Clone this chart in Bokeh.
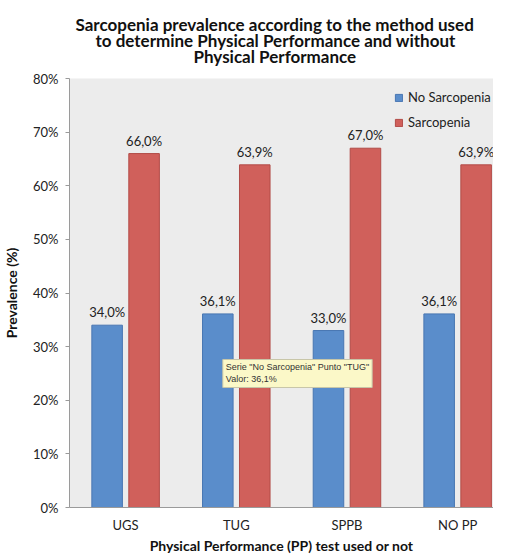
from bokeh.plotting import figure
from bokeh.models import (ColumnDataSource, FixedTicker, Legend, LegendItem,
                          LabelSet, Label, Title, Range1d)
from bokeh.core.properties import value
from bokeh.transform import dodge
from bokeh.embed import file_html
from bokeh.resources import INLINE

# ---- data ----
categories = ["UGS", "TUG", "SPPB", "NO PP"]
no_sarcopenia = [34.0, 36.1, 33.0, 36.1]
sarcopenia = [66.0, 63.9, 67.0, 63.9]
y_ticks = [0, 10, 20, 30, 40, 50, 60, 70, 80]
y_tick_labels = [f"{t}%" for t in y_ticks]
series_names = ["No Sarcopenia", "Sarcopenia"]
title_lines = ["Sarcopenia prevalence according to the method used",
               "to determine Physical Performance and without",
               "Physical Performance"]
tooltip_text = 'Serie "No Sarcopenia" Punto "TUG"\nValor: 36,1%'
tooltip_category = "TUG"
tooltip_top_value = 27.6

FONT = "Lato"
BLUE, BLUE_EDGE = "#5a8dcb", "#4876b2"
RED, RED_EDGE = "#d0605b", "#b24b47"

xs = list(range(len(categories)))


def pct(v):
    return f"{v:.1f}%".replace(".", ",")


src = ColumnDataSource(dict(
    x=xs,
    no=no_sarcopenia,
    yes=sarcopenia,
    no_lbl=[pct(v) for v in no_sarcopenia],
    yes_lbl=[pct(v) for v in sarcopenia],
))

p = figure(width=493, height=556, output_backend="svg", toolbar_location=None,
           x_range=Range1d(-0.507, 3.324), y_range=Range1d(0, 80),
           min_border_left=62, min_border_right=0, min_border_top=78,
           min_border_bottom=46, background_fill_color="#ececec",
           border_fill_color="white", outline_line_color=None)

off = 0.167
w = 0.276
r_no = p.vbar(x=dodge("x", -off), top="no", width=w, source=src,
              fill_color=BLUE, line_color=BLUE_EDGE, line_width=1)
r_yes = p.vbar(x=dodge("x", off), top="yes", width=w, source=src,
               fill_color=RED, line_color=RED_EDGE, line_width=1)

for col, lbl, d in (("no", "no_lbl", -off), ("yes", "yes_lbl", off)):
    p.add_layout(LabelSet(x=dodge("x", d), y=col, text=lbl, source=src,
                          text_align="center", text_baseline="bottom",
                          y_offset=5, text_font=value(FONT),
                          text_font_size=value("13px"),
                          text_color="#222222"))

# grid off
p.xgrid.grid_line_color = None
p.ygrid.grid_line_color = None

# axes
p.xaxis.ticker = FixedTicker(ticks=xs)
p.xaxis.major_label_overrides = {i: c for i, c in zip(xs, categories)}
p.xaxis.major_tick_line_color = None
p.xaxis.minor_tick_line_color = None
p.xaxis.major_tick_out = 0
p.xaxis.major_tick_in = 0
p.xaxis.major_label_standoff = 9
p.xaxis.axis_line_color = "#9a9a9a"
p.xaxis.major_label_text_font = FONT
p.xaxis.major_label_text_font_size = "13px"
p.xaxis.major_label_text_color = "#222222"
p.xaxis.axis_label = "Physical Performance (PP) test used or not"
p.xaxis.axis_label_text_font = FONT
p.xaxis.axis_label_text_font_style = "bold"
p.xaxis.axis_label_text_font_size = "14px"
p.xaxis.axis_label_text_color = "#111111"
p.xaxis.axis_label_standoff = 1

p.yaxis.ticker = FixedTicker(ticks=y_ticks)
p.yaxis.major_label_overrides = {t: l for t, l in zip(y_ticks, y_tick_labels)}
p.yaxis.minor_tick_line_color = None
p.yaxis.major_tick_in = 0
p.yaxis.major_tick_out = 4
p.yaxis.major_tick_line_color = "#9a9a9a"
p.yaxis.axis_line_color = "#9a9a9a"
p.yaxis.major_label_standoff = 7
p.yaxis.major_label_text_font = FONT
p.yaxis.major_label_text_font_size = "13px"
p.yaxis.major_label_text_color = "#222222"
p.yaxis.axis_label = "Prevalence (%)"
p.yaxis.axis_label_text_font = FONT
p.yaxis.axis_label_text_font_style = "bold"
p.yaxis.axis_label_text_font_size = "14px"
p.yaxis.axis_label_text_color = "#111111"
p.yaxis.axis_label_standoff = 10

# title: a small gap above the frame, then one Title per line (frame outward)
p.add_layout(Title(text=" ", text_font_size="1px", standoff=12), "above")
title_offsets = [6, 26, 124]
for line, ox in reversed(list(zip(title_lines, title_offsets))):
    p.add_layout(Title(text=line, align="left", offset=ox,
                       text_font=FONT, text_font_style="bold",
                       text_font_size="17px", text_color="#111111",
                       standoff=-7), "above")

# legend
legend = Legend(items=[LegendItem(label=series_names[0], renderers=[r_no]),
                       LegendItem(label=series_names[1], renderers=[r_yes])],
                location=(325, 377), padding=0, margin=0, spacing=9,
                glyph_width=9, glyph_height=9, label_standoff=5,
                label_text_font=FONT, label_text_font_size="13px",
                label_text_color="#222222", background_fill_alpha=0,
                border_line_color=None)
p.add_layout(legend)

# tooltip box present in the screenshot
p.add_layout(Label(x=categories.index(tooltip_category) - off, y=tooltip_top_value,
                   x_offset=5, text=tooltip_text, text_align="left",
                   text_baseline="top", text_font="Liberation Sans",
                   text_font_size="9px", text_line_height=1.2,
                   text_color="#333333", background_fill_color="#fbf8c8",
                   border_line_color="#c8c6a8", padding=3))

open("out.html", "w").write(file_html(p, INLINE))
